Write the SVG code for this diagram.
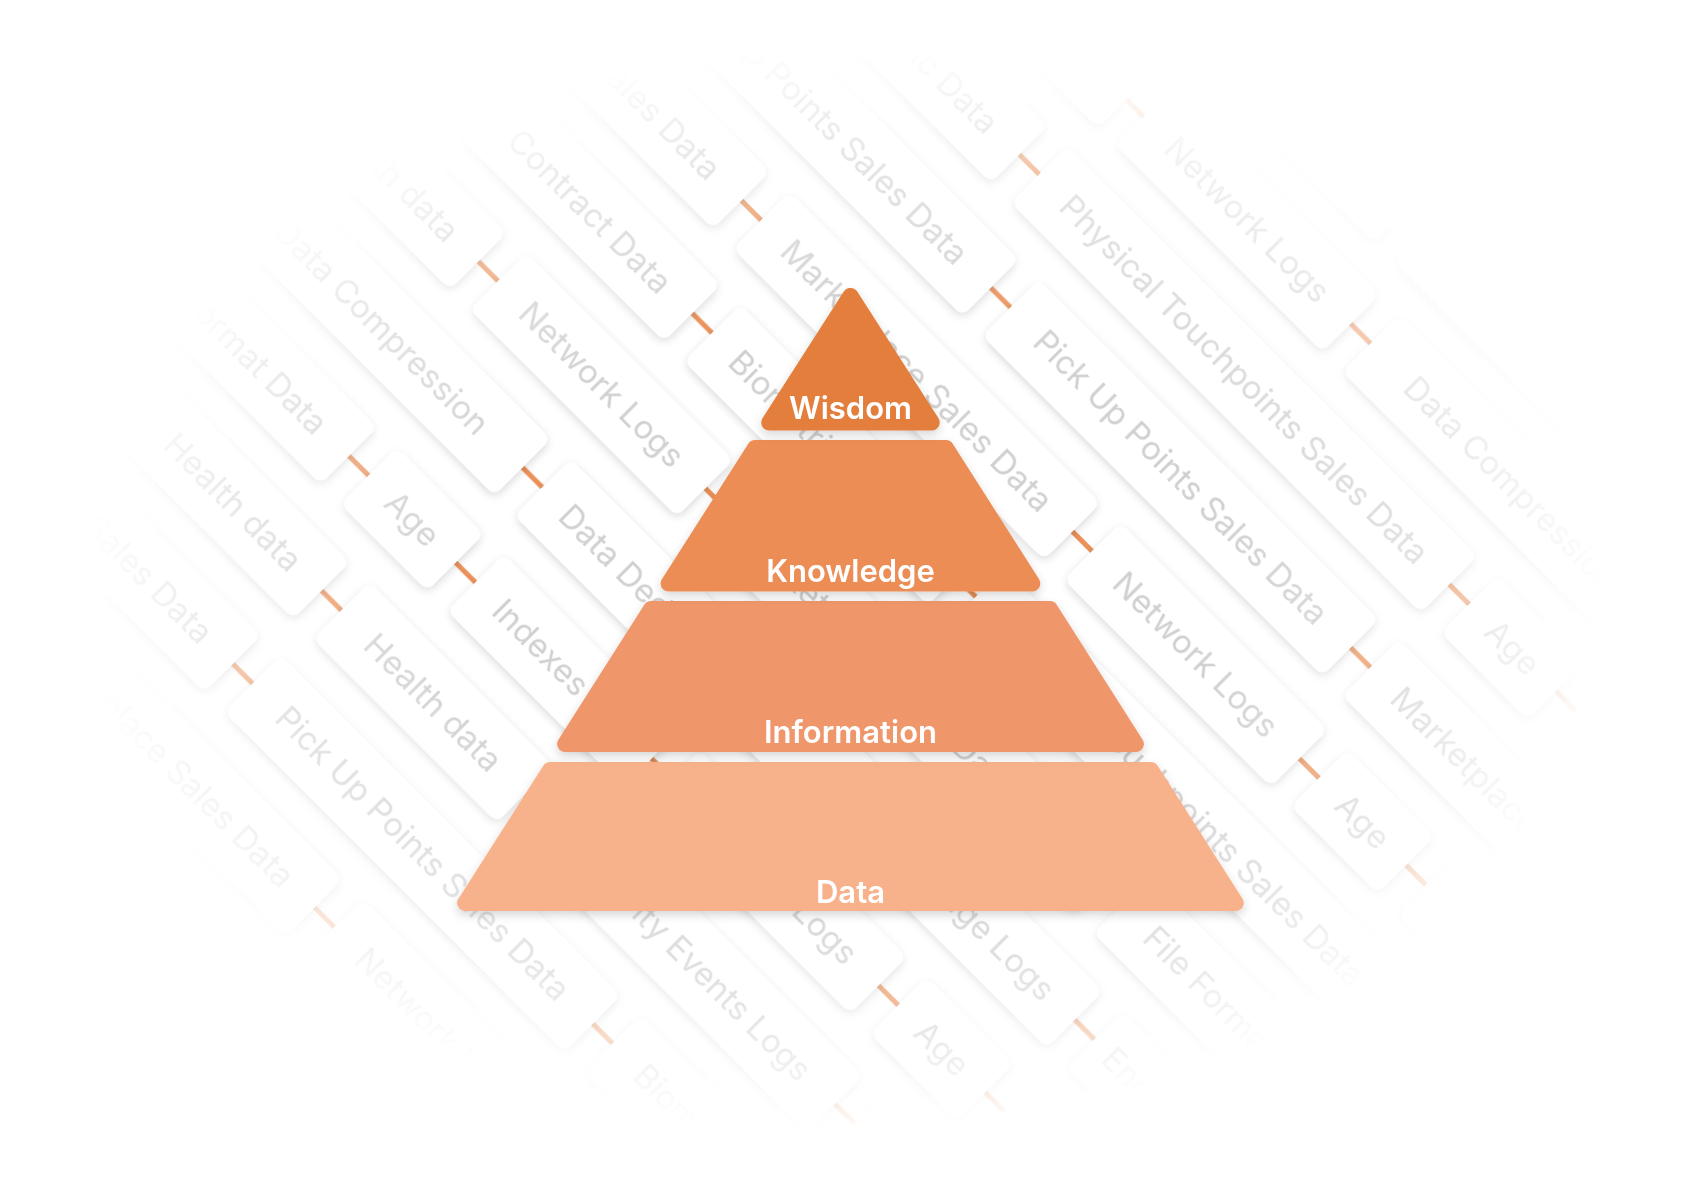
<svg xmlns="http://www.w3.org/2000/svg" width="1701" height="1201" viewBox="0 0 1701 1201">
<style>
.card rect{fill:#ffffff;filter:url(#cs);}
.card text{font-family:Inter,"Noto Sans","Liberation Sans",sans-serif;font-size:33px;fill:#d0d0d0;text-anchor:middle;}
.card text.l{text-anchor:start;}
#connectors line{stroke:#EA9058;stroke-width:5;}
.layer polygon{stroke-width:16;stroke-linejoin:round;filter:url(#ps);}
.layer text{font-family:Inter,"Noto Sans","Liberation Sans",sans-serif;font-weight:600;font-size:31px;fill:#ffffff;text-anchor:middle;}
</style>
<defs>
<filter id="cs" x="-20%" y="-40%" width="140%" height="180%">
<feDropShadow dx="2.1" dy="2.1" stdDeviation="4" flood-color="#000" flood-opacity="0.15"/>
</filter>
<filter id="ps" x="-10%" y="-15%" width="120%" height="140%">
<feDropShadow dx="0" dy="4" stdDeviation="5" flood-color="#000" flood-opacity="0.16"/>
</filter>
<radialGradient id="rg" gradientUnits="userSpaceOnUse" cx="846" cy="590" r="760" gradientTransform="translate(846 590) scale(1 0.717) translate(-846 -590)">
<stop offset="0" stop-color="#fff"/>
<stop offset="0.5" stop-color="#fff"/>
<stop offset="0.8" stop-color="#fff" stop-opacity="0.55"/>
<stop offset="1" stop-color="#fff" stop-opacity="0"/>
</radialGradient>
<mask id="fade" maskUnits="userSpaceOnUse" x="0" y="0" width="1701" height="1201">
<rect x="0" y="0" width="1701" height="1201" fill="url(#rg)"/>
</mask>
</defs>
<rect width="1701" height="1201" fill="#ffffff"/>
<g id="background" mask="url(#fade)">
<g transform="rotate(45)">
<g id="connectors">
<line x1="1143" y1="-840.7" x2="1171" y2="-840.7"/>
<line x1="867" y1="-726.2" x2="891" y2="-726.2"/>
<line x1="1184" y1="-726.2" x2="1212" y2="-726.2"/>
<line x1="830" y1="-611.6" x2="858" y2="-611.6"/>
<line x1="1438" y1="-611.6" x2="1466" y2="-611.6"/>
<line x1="1589" y1="-611.6" x2="1617" y2="-611.6"/>
<line x1="904" y1="-497.1" x2="932" y2="-497.1"/>
<line x1="1413" y1="-497.1" x2="1441" y2="-497.1"/>
<line x1="666" y1="-382.5" x2="694" y2="-382.5"/>
<line x1="1134" y1="-382.5" x2="1162" y2="-382.5"/>
<line x1="1455" y1="-382.5" x2="1483" y2="-382.5"/>
<line x1="1606" y1="-382.5" x2="1634" y2="-382.5"/>
<line x1="711" y1="-268" x2="739" y2="-268"/>
<line x1="1084" y1="-268" x2="1112" y2="-268"/>
<line x1="523" y1="-153.4" x2="551" y2="-153.4"/>
<line x1="844" y1="-153.4" x2="872" y2="-153.4"/>
<line x1="1405" y1="-153.4" x2="1433" y2="-153.4"/>
<line x1="700" y1="-38.9" x2="728" y2="-38.9"/>
<line x1="1175" y1="-38.9" x2="1203" y2="-38.9"/>
<line x1="1481" y1="-38.9" x2="1509" y2="-38.9"/>
<line x1="569" y1="75.7" x2="597" y2="75.7"/>
<line x1="720" y1="75.7" x2="748" y2="75.7"/>
<line x1="997" y1="75.7" x2="1025" y2="75.7"/>
<line x1="1318" y1="75.7" x2="1346" y2="75.7"/>
<line x1="1469" y1="75.7" x2="1497" y2="75.7"/>
<line x1="645" y1="190.2" x2="673" y2="190.2"/>
<line x1="933" y1="190.2" x2="961" y2="190.2"/>
<line x1="1371" y1="190.2" x2="1399" y2="190.2"/>
<line x1="634" y1="304.8" x2="662" y2="304.8"/>
<line x1="1143" y1="304.8" x2="1171" y2="304.8"/>
<line x1="864" y1="419.3" x2="892" y2="419.3"/>
</g>
<g id="cards">
<g id="r-1c1" class="card"><rect x="953" y="-880.7" width="190" height="80" rx="9"/></g>
<g id="r-1c2" class="card"><rect x="1171" y="-880.7" width="293" height="80" rx="9"/></g>

<g id="r0c1" class="card"><rect x="616" y="-766.2" width="251" height="80" rx="9"/></g>
<g id="r0c2" class="card"><rect x="891" y="-766.2" width="293" height="80" rx="9"/><text x="1037.5" y="-714.7">Network Logs</text></g>
<g id="r0c3" class="card"><rect x="1212" y="-766.2" width="397" height="80" rx="9"/><text x="1410.5" y="-714.7">Data Compression</text></g>

<g id="r1c1" class="card"><rect x="526" y="-651.6" width="304" height="80" rx="9"/><text x="678" y="-600.1">Biometric Data</text></g>
<g id="r1c2" class="card"><rect x="858" y="-651.6" width="580" height="80" rx="9"/><text x="1148" y="-600.1">Physical Touchpoints Sales Data</text></g>
<g id="r1c3" class="card"><rect x="1466" y="-651.6" width="123" height="80" rx="9"/><text x="1527.5" y="-600.1">Age</text></g>
<g id="r1c4" class="card"><rect x="1617" y="-651.6" width="293" height="80" rx="9"/></g>

<g id="r2c1" class="card"><rect x="423" y="-537.1" width="481" height="80" rx="9"/><text x="663.5" y="-485.6">Pick Up Points Sales Data</text></g>
<g id="r2c2" class="card"><rect x="932" y="-537.1" width="481" height="80" rx="9"/><text x="1172.5" y="-485.6">Pick Up Points Sales Data</text></g>
<g id="r2c3" class="card"><rect x="1441" y="-537.1" width="441" height="80" rx="9"/><text x="1661.5" y="-485.6">Marketplace Sales Data</text></g>

<g id="r3c1" class="card"><rect x="86" y="-422.5" width="580" height="80" rx="9"/><text x="376" y="-371">Physical Touchpoints Sales Data</text></g>
<g id="r3c2" class="card"><rect x="694" y="-422.5" width="440" height="80" rx="9"/><text x="914" y="-371">Marketplace Sales Data</text></g>
<g id="r3c3" class="card"><rect x="1162" y="-422.5" width="293" height="80" rx="9"/><text x="1308.5" y="-371">Network Logs</text></g>
<g id="r3c4" class="card"><rect x="1483" y="-422.5" width="123" height="80" rx="9"/><text x="1544.5" y="-371">Age</text></g>
<g id="r3c5" class="card"><rect x="1634" y="-422.5" width="250" height="80" rx="9"/></g>

<g id="r4c1" class="card"><rect x="422" y="-308" width="289" height="80" rx="9"/><text x="566.5" y="-256.5">Contract Data</text></g>
<g id="r4c2" class="card"><rect x="739" y="-308" width="345" height="80" rx="9"/><text class="l" x="771" y="-256.5">Biometric Data</text></g>
<g id="r4c3" class="card"><rect x="1112" y="-308" width="580" height="80" rx="9"/><text x="1402" y="-256.5">Physical Touchpoints Sales Data</text></g>

<g id="r5c1" class="card"><rect x="273" y="-193.4" width="250" height="80" rx="9"/><text x="398" y="-141.9">Health data</text></g>
<g id="r5c2" class="card"><rect x="551" y="-193.4" width="293" height="80" rx="9"/><text x="697.5" y="-141.9">Network Logs</text></g>
<g id="r5c3" class="card"><rect x="872" y="-193.4" width="533" height="80" rx="9"/><text class="l" x="904" y="-141.9">Marketplace Sales Data</text></g>
<g id="r5c4" class="card"><rect x="1433" y="-193.4" width="331" height="80" rx="9"/><text x="1598.5" y="-141.9">File Format Data</text></g>

<g id="r6c1" class="card"><rect x="303" y="-78.9" width="397" height="80" rx="9"/><text x="501.5" y="-27.4">Data Compression</text></g>
<g id="r6c2" class="card"><rect x="728" y="-78.9" width="447" height="80" rx="9"/><text class="l" x="760" y="-27.4">Data Deduplication</text></g>
<g id="r6c3" class="card"><rect x="1203" y="-78.9" width="278" height="80" rx="9"/><text x="1342" y="-27.4">Storage Logs</text></g>
<g id="r6c4" class="card"><rect x="1509" y="-78.9" width="291" height="80" rx="9"/><text x="1654.5" y="-27.4">Encryption Logs</text></g>

<g id="r7c1" class="card"><rect x="238" y="35.7" width="331" height="80" rx="9"/><text x="403.5" y="87.2">File Format Data</text></g>
<g id="r7c2" class="card"><rect x="597" y="35.7" width="123" height="80" rx="9"/><text x="658.5" y="87.2">Age</text></g>
<g id="r7c3" class="card"><rect x="748" y="35.7" width="249" height="80" rx="9"/><text class="l" x="780" y="87.2">Indexes</text></g>
<g id="r7c4" class="card"><rect x="1025" y="35.7" width="293" height="80" rx="9"/><text x="1171.5" y="87.2">Network Logs</text></g>
<g id="r7c5" class="card"><rect x="1346" y="35.7" width="123" height="80" rx="9"/><text x="1407.5" y="87.2">Age</text></g>
<g id="r7c6" class="card"><rect x="1497" y="35.7" width="278" height="80" rx="9"/></g>

<g id="r8c1" class="card"><rect x="395" y="150.2" width="250" height="80" rx="9"/><text x="520" y="201.7">Health data</text></g>
<g id="r8c2" class="card"><rect x="673" y="150.2" width="260" height="80" rx="9"/><text x="803" y="201.7">Health data</text></g>
<g id="r8c3" class="card"><rect x="961" y="150.2" width="410" height="80" rx="9"/><text x="1166" y="201.7">Security Events Logs</text></g>
<g id="r8c4" class="card"><rect x="1399" y="150.2" width="123" height="80" rx="9"/></g>

<g id="r9c1" class="card"><rect x="193" y="264.8" width="441" height="80" rx="9"/><text x="413.5" y="316.3">Marketplace Sales Data</text></g>
<g id="r9c2" class="card"><rect x="662" y="264.8" width="481" height="80" rx="9"/><text x="902.5" y="316.3">Pick Up Points Sales Data</text></g>
<g id="r9c3" class="card"><rect x="1171" y="264.8" width="304" height="80" rx="9"/><text x="1323" y="316.3">Biometric Data</text></g>

<g id="r10c1" class="card"><rect x="423" y="379.3" width="441" height="80" rx="9"/><text x="643.5" y="430.8">Marketplace Sales Data</text></g>
<g id="r10c2" class="card"><rect x="892" y="379.3" width="293" height="80" rx="9"/><text x="1038.5" y="430.8">Network Logs</text></g>
</g>
</g>
</g>
<g id="pyramid">
<g id="data" class="layer"><polygon points="550.03,770 1150.97,770 1235.8,903 465.2,903" fill="#F8B28B" stroke="#F8B28B"/><text x="850.5" y="903">Data</text></g>
<g id="information" class="layer"><polygon points="651.03,609 1049.97,609 1135.9,744 565.1,744" fill="#EF966B" stroke="#EF966B"/><text x="850.5" y="743">Information</text></g>
<g id="knowledge" class="layer"><polygon points="755.03,448 945.97,448 1032.4,583.5 668.6,583.5" fill="#EC8D57" stroke="#EC8D57"/><text x="850.5" y="582">Knowledge</text></g>
<g id="wisdom" class="layer"><polygon points="850.5,295.9 931.8,422.5 769.2,422.5" fill="#E47E3C" stroke="#E47E3C"/><text x="850.5" y="419">Wisdom</text></g>
</g>
</svg>
